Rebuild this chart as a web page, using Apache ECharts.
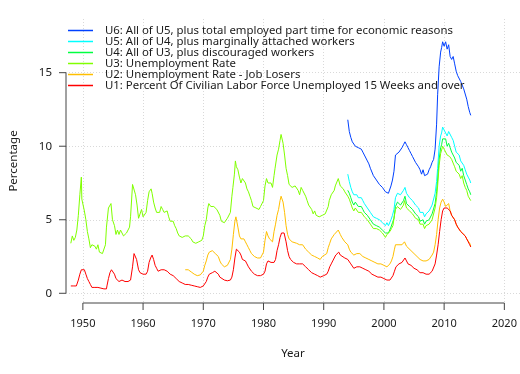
<!DOCTYPE html>
<html><head><meta charset="utf-8">
<script src="https://cdn.jsdelivr.net/npm/echarts@6/dist/echarts.min.js"></script>
<style>html,body{margin:0;padding:0;background:#fff}#c{width:520px;height:374px}</style>
</head><body><div id="c"></div>
<script>
// ---- data (decimal year, percent) ----
const seriesNames = [
  'U6: All of U5, plus total employed part time for economic reasons',
  'U5: All of U4, plus marginally attached workers',
  'U4: All of U3, plus discouraged workers',
  'U3: Unemployment Rate',
  'U2: Unemployment Rate - Job Losers',
  'U1: Percent Of Civilian Labor Force Unemployed 15 Weeks and over'
];
const seriesColors = ['#0040FF', '#00FFFF', '#00FF40', '#80FF00', '#FFBF00', '#FF0000'];
const xTicks = [1950, 1960, 1970, 1980, 1990, 2000, 2010, 2020];
const yTicks = [0, 5, 10, 15];

const u6 = [[1994.0,11.8],[1994.25,11.0],[1994.5,10.6],[1994.75,10.3],[1995.0,10.2],[1995.25,10.0],[1995.5,10.1],[1995.75,9.9],[1996.0,9.8],[1996.25,9.8],[1996.5,9.6],[1996.75,9.4],[1997.0,9.3],[1997.25,9.0],[1997.5,8.8],[1997.75,8.5],[1998.0,8.4],[1998.25,8.0],[1998.5,7.9],[1998.75,7.7],[1999.0,7.6],[1999.25,7.4],[1999.5,7.4],[1999.75,7.2],[2000.0,7.1],[2000.25,6.9],[2000.5,7.0],[2000.75,6.8],[2000.92,6.9],[2001.17,7.3],[2001.42,7.7],[2001.67,8.3],[2001.92,9.4],[2002.25,9.5],[2002.5,9.6],[2002.75,9.6],[2003.0,9.9],[2003.25,10.1],[2003.5,10.3],[2003.75,10.1],[2004.0,9.9],[2004.25,9.7],[2004.5,9.5],[2004.75,9.3],[2005.0,9.3],[2005.25,8.9],[2005.5,8.8],[2005.75,8.6],[2006.0,8.4],[2006.25,8.1],[2006.5,8.4],[2006.75,8.0],[2007.0,7.9],[2007.25,8.1],[2007.5,8.4],[2007.75,8.6],[2008.0,8.9],[2008.25,9.1],[2008.5,9.8],[2008.75,11.5],[2008.92,13.5],[2009.17,15.4],[2009.42,16.4],[2009.58,16.7],[2009.75,17.1],[2010.0,16.8],[2010.25,17.1],[2010.5,16.6],[2010.75,16.9],[2011.0,16.1],[2011.25,15.9],[2011.5,16.1],[2011.75,15.6],[2012.0,15.1],[2012.25,14.8],[2012.5,14.7],[2012.75,14.4],[2013.0,14.3],[2013.25,13.9],[2013.5,13.8],[2013.75,13.2],[2014.0,12.7],[2014.25,12.3],[2014.42,12.1]];

const u5 = [[1994.0,8.1],[1994.25,7.6],[1994.5,7.2],[1994.75,6.9],[1995.0,6.7],[1995.25,6.8],[1995.5,6.7],[1995.75,6.5],[1996.0,6.6],[1996.25,6.5],[1996.5,6.3],[1996.75,6.1],[1997.0,6.1],[1997.25,5.8],[1997.5,5.7],[1997.75,5.5],[1998.0,5.4],[1998.25,5.2],[1998.5,5.3],[1998.75,5.1],[1999.0,5.1],[1999.25,5.0],[1999.5,5.0],[1999.75,4.8],[2000.0,4.8],[2000.25,4.6],[2000.5,4.8],[2000.75,4.6],[2000.92,4.7],[2001.17,5.0],[2001.42,5.3],[2001.67,5.7],[2001.92,6.5],[2002.25,6.8],[2002.5,6.7],[2002.75,6.7],[2003.0,6.8],[2003.25,7.0],[2003.5,7.2],[2003.75,6.8],[2004.0,6.7],[2004.25,6.5],[2004.5,6.4],[2004.75,6.3],[2005.0,6.2],[2005.25,6.0],[2005.5,5.9],[2005.75,5.8],[2006.0,5.5],[2006.25,5.4],[2006.5,5.5],[2006.75,5.2],[2007.0,5.4],[2007.25,5.3],[2007.5,5.6],[2007.75,5.6],[2008.0,6.0],[2008.25,6.0],[2008.5,6.8],[2008.75,7.6],[2008.92,8.5],[2009.17,10.0],[2009.42,10.7],[2009.58,10.9],[2009.75,11.3],[2010.0,11.1],[2010.25,11.2],[2010.5,10.7],[2010.75,11.0],[2011.0,10.9],[2011.25,10.6],[2011.5,10.4],[2011.75,10.0],[2012.0,9.6],[2012.25,9.5],[2012.5,9.4],[2012.75,9.0],[2013.0,9.1],[2013.25,8.7],[2013.5,8.4],[2013.75,8.1],[2014.0,7.9],[2014.25,7.7],[2014.42,7.5]];

const u4 = [[1994.0,7.0],[1994.25,6.8],[1994.5,6.5],[1994.75,6.2],[1995.0,6.0],[1995.25,6.2],[1995.5,6.1],[1995.75,5.9],[1996.0,6.0],[1996.25,5.9],[1996.5,5.7],[1996.75,5.5],[1997.0,5.6],[1997.25,5.3],[1997.5,5.2],[1997.75,5.0],[1998.0,4.9],[1998.25,4.7],[1998.5,4.8],[1998.75,4.6],[1999.0,4.6],[1999.25,4.5],[1999.5,4.5],[1999.75,4.3],[2000.0,4.3],[2000.25,4.1],[2000.5,4.2],[2000.75,4.1],[2000.92,4.2],[2001.17,4.5],[2001.42,4.8],[2001.67,5.1],[2001.92,5.9],[2002.25,6.2],[2002.5,6.1],[2002.75,6.0],[2003.0,6.1],[2003.25,6.3],[2003.5,6.6],[2003.75,6.1],[2004.0,6.0],[2004.25,5.9],[2004.5,5.8],[2004.75,5.7],[2005.0,5.6],[2005.25,5.4],[2005.5,5.3],[2005.75,5.2],[2006.0,4.9],[2006.25,4.9],[2006.5,5.0],[2006.75,4.7],[2007.0,4.9],[2007.25,4.8],[2007.5,5.0],[2007.75,5.0],[2008.0,5.4],[2008.25,5.3],[2008.5,6.1],[2008.75,6.9],[2008.92,7.7],[2009.17,9.1],[2009.42,9.9],[2009.58,10.1],[2009.75,10.5],[2010.0,10.4],[2010.25,10.5],[2010.5,10.0],[2010.75,10.2],[2011.0,9.9],[2011.25,9.6],[2011.5,9.6],[2011.75,9.2],[2012.0,8.9],[2012.25,8.8],[2012.5,8.7],[2012.75,8.3],[2013.0,8.5],[2013.25,8.0],[2013.5,7.7],[2013.75,7.4],[2014.0,7.1],[2014.25,6.9],[2014.42,6.7]];

const u3 = [[1948.0,3.4],[1948.25,3.9],[1948.5,3.6],[1948.75,3.8],[1949.0,4.3],[1949.25,5.3],[1949.5,6.7],[1949.67,6.6],[1949.75,7.9],[1949.83,6.4],[1950.0,6.5],[1950.25,5.6],[1950.5,5.0],[1950.75,4.2],[1951.0,3.7],[1951.25,3.1],[1951.5,3.3],[1951.75,3.2],[1952.0,3.2],[1952.25,3.0],[1952.5,3.3],[1952.75,2.8],[1953.0,2.9],[1953.25,2.7],[1953.5,2.6],[1953.75,3.3],[1953.92,4.5],[1954.25,5.8],[1954.67,6.1],[1954.92,5.0],[1955.25,4.6],[1955.5,4.0],[1955.75,4.3],[1956.0,4.0],[1956.25,4.3],[1956.5,4.4],[1956.75,3.9],[1957.0,3.9],[1957.25,4.1],[1957.5,4.2],[1957.75,4.5],[1957.92,5.2],[1958.25,7.4],[1958.5,7.5],[1958.75,6.7],[1959.0,6.0],[1959.25,5.1],[1959.5,5.2],[1959.75,5.7],[1960.0,5.2],[1960.25,5.1],[1960.5,5.5],[1960.75,6.3],[1961.0,6.9],[1961.33,7.1],[1961.5,6.8],[1961.75,6.2],[1962.0,5.8],[1962.25,5.5],[1962.5,5.6],[1962.75,5.5],[1963.0,5.9],[1963.25,5.7],[1963.5,5.5],[1963.75,5.5],[1964.0,5.6],[1964.25,5.2],[1964.5,4.9],[1964.75,5.0],[1965.0,4.9],[1965.25,4.6],[1965.5,4.4],[1965.75,4.1],[1966.0,3.9],[1966.25,3.8],[1966.5,3.8],[1966.75,3.7],[1967.0,3.9],[1967.25,3.8],[1967.5,3.9],[1967.75,3.9],[1968.0,3.7],[1968.25,3.5],[1968.5,3.5],[1968.75,3.4],[1969.0,3.4],[1969.25,3.5],[1969.5,3.5],[1969.75,3.6],[1970.0,3.9],[1970.25,4.6],[1970.5,5.0],[1970.75,5.8],[1970.92,6.1],[1971.25,5.9],[1971.5,6.0],[1971.75,5.9],[1972.0,5.8],[1972.25,5.7],[1972.5,5.6],[1972.75,5.3],[1973.0,4.9],[1973.25,5.0],[1973.5,4.8],[1973.75,4.8],[1974.0,5.1],[1974.25,5.1],[1974.5,5.5],[1974.75,6.6],[1974.92,7.2],[1975.17,8.1],[1975.33,9.0],[1975.5,8.6],[1975.75,8.4],[1976.0,7.9],[1976.25,7.5],[1976.5,7.8],[1976.75,7.7],[1977.0,7.5],[1977.25,7.1],[1977.5,6.9],[1977.75,6.6],[1978.0,6.3],[1978.25,5.9],[1978.5,6.0],[1978.75,5.8],[1979.0,5.9],[1979.25,5.7],[1979.5,5.9],[1979.75,6.0],[1980.0,6.3],[1980.25,7.3],[1980.5,7.8],[1980.75,7.5],[1981.0,7.5],[1981.25,7.5],[1981.5,7.2],[1981.75,8.0],[1981.92,8.5],[1982.25,9.4],[1982.5,9.8],[1982.75,10.4],[1982.92,10.8],[1983.25,10.2],[1983.5,9.4],[1983.75,8.5],[1984.0,8.0],[1984.25,7.4],[1984.5,7.5],[1984.75,7.2],[1985.0,7.3],[1985.25,7.3],[1985.5,7.2],[1985.75,7.0],[1986.0,6.7],[1986.25,7.2],[1986.5,7.0],[1986.75,6.9],[1987.0,6.6],[1987.25,6.3],[1987.5,6.0],[1987.75,5.9],[1988.0,5.7],[1988.25,5.4],[1988.5,5.6],[1988.75,5.3],[1989.0,5.4],[1989.25,5.2],[1989.5,5.2],[1989.75,5.3],[1990.0,5.4],[1990.25,5.4],[1990.5,5.5],[1990.75,5.9],[1990.92,6.3],[1991.25,6.7],[1991.5,6.8],[1991.75,7.0],[1991.92,7.3],[1992.25,7.4],[1992.42,7.8],[1992.75,7.3],[1993.0,7.3],[1993.25,7.1],[1993.5,6.9],[1993.75,6.8],[1994.0,6.6],[1994.25,6.4],[1994.5,6.1],[1994.75,5.8],[1995.0,5.6],[1995.25,5.8],[1995.5,5.7],[1995.75,5.5],[1996.0,5.6],[1996.25,5.5],[1996.5,5.4],[1996.75,5.2],[1997.0,5.3],[1997.25,5.0],[1997.5,4.9],[1997.75,4.7],[1998.0,4.6],[1998.25,4.4],[1998.5,4.5],[1998.75,4.4],[1999.0,4.3],[1999.25,4.3],[1999.5,4.3],[1999.75,4.1],[2000.0,4.0],[2000.25,3.8],[2000.5,4.0],[2000.75,3.9],[2001.0,4.2],[2001.25,4.4],[2001.5,4.6],[2001.75,5.3],[2001.92,5.7],[2002.25,5.9],[2002.5,5.8],[2002.75,5.7],[2003.0,5.8],[2003.25,6.0],[2003.42,6.3],[2003.75,5.8],[2004.0,5.7],[2004.25,5.6],[2004.5,5.5],[2004.75,5.4],[2005.0,5.3],[2005.25,5.1],[2005.5,5.0],[2005.75,5.0],[2006.0,4.7],[2006.25,4.6],[2006.5,4.7],[2006.75,4.4],[2007.0,4.6],[2007.25,4.5],[2007.5,4.7],[2007.75,4.7],[2008.0,5.0],[2008.25,5.0],[2008.5,5.8],[2008.75,6.5],[2008.92,7.3],[2009.17,8.7],[2009.42,9.5],[2009.58,9.6],[2009.75,10.0],[2010.0,9.8],[2010.25,9.9],[2010.5,9.4],[2010.75,9.5],[2010.92,9.3],[2011.25,9.1],[2011.5,9.0],[2011.75,8.6],[2012.0,8.3],[2012.25,8.2],[2012.5,8.1],[2012.75,7.8],[2013.0,8.0],[2013.25,7.5],[2013.5,7.2],[2013.75,7.0],[2014.0,6.6],[2014.25,6.5],[2014.42,6.3]];

const u2 = [[1967.0,1.6],[1967.25,1.65],[1967.5,1.6],[1967.75,1.55],[1968.0,1.45],[1968.25,1.35],[1968.5,1.3],[1968.75,1.25],[1969.0,1.2],[1969.5,1.25],[1969.75,1.3],[1970.0,1.5],[1970.25,1.9],[1970.5,2.2],[1970.75,2.6],[1971.0,2.8],[1971.25,2.8],[1971.5,2.9],[1971.75,2.8],[1972.0,2.7],[1972.25,2.6],[1972.5,2.5],[1972.75,2.2],[1973.0,2.0],[1973.25,1.9],[1973.5,1.8],[1973.75,1.8],[1974.0,1.9],[1974.25,2.0],[1974.5,2.3],[1974.75,3.0],[1975.0,4.0],[1975.25,4.9],[1975.42,5.2],[1975.75,4.5],[1976.0,3.9],[1976.25,3.7],[1976.5,3.8],[1976.75,3.7],[1977.0,3.5],[1977.25,3.3],[1977.5,3.1],[1977.75,2.9],[1978.0,2.7],[1978.5,2.5],[1979.0,2.4],[1979.5,2.4],[1979.75,2.6],[1980.0,2.8],[1980.25,3.6],[1980.5,4.2],[1980.75,3.9],[1981.0,3.7],[1981.25,3.6],[1981.5,3.5],[1981.75,4.2],[1982.0,4.7],[1982.25,5.3],[1982.5,5.7],[1982.75,6.3],[1982.92,6.6],[1983.25,6.2],[1983.5,5.5],[1983.75,4.6],[1984.0,4.0],[1984.25,3.7],[1984.5,3.6],[1984.75,3.5],[1985.0,3.5],[1985.5,3.4],[1986.0,3.3],[1986.25,3.4],[1986.5,3.3],[1986.75,3.2],[1987.0,3.0],[1987.5,2.8],[1988.0,2.6],[1988.5,2.5],[1989.0,2.4],[1989.42,2.3],[1989.75,2.5],[1990.0,2.5],[1990.5,2.7],[1990.75,3.1],[1991.0,3.4],[1991.25,3.7],[1991.5,3.8],[1991.75,4.0],[1992.0,4.1],[1992.42,4.3],[1992.75,4.0],[1993.0,3.8],[1993.5,3.5],[1994.0,3.3],[1994.25,3.0],[1994.5,2.8],[1994.75,2.7],[1995.0,2.6],[1995.5,2.7],[1996.0,2.7],[1996.5,2.5],[1997.0,2.4],[1997.5,2.3],[1998.0,2.2],[1998.5,2.1],[1999.0,2.0],[1999.5,2.0],[2000.0,1.9],[2000.5,1.8],[2000.75,1.8],[2001.0,2.0],[2001.25,2.2],[2001.5,2.5],[2001.75,3.0],[2001.92,3.3],[2002.25,3.4],[2002.5,3.3],[2002.75,3.3],[2003.0,3.3],[2003.42,3.5],[2003.75,3.2],[2004.0,3.1],[2004.5,2.9],[2005.0,2.7],[2005.5,2.5],[2006.0,2.3],[2006.5,2.2],[2006.75,2.1],[2007.0,2.2],[2007.5,2.3],[2007.75,2.4],[2008.0,2.6],[2008.25,2.8],[2008.5,3.3],[2008.75,4.0],[2009.0,5.0],[2009.25,5.8],[2009.5,6.2],[2009.75,6.4],[2010.0,6.2],[2010.25,5.9],[2010.5,5.8],[2010.75,6.1],[2011.0,5.6],[2011.25,5.3],[2011.5,5.4],[2011.75,5.0],[2012.0,4.7],[2012.25,4.5],[2012.5,4.4],[2012.75,4.2],[2013.0,4.1],[2013.5,3.9],[2013.75,3.7],[2014.0,3.6],[2014.25,3.4],[2014.42,3.2]];

const u1 = [[1948.0,0.5],[1948.5,0.5],[1948.92,0.5],[1949.25,0.9],[1949.5,1.3],[1949.75,1.6],[1950.0,1.7],[1950.25,1.6],[1950.5,1.3],[1950.75,1.0],[1951.0,0.8],[1951.25,0.6],[1951.5,0.4],[1951.75,0.5],[1952.0,0.4],[1952.5,0.4],[1952.75,0.35],[1953.0,0.35],[1953.5,0.3],[1953.92,0.3],[1954.0,0.5],[1954.25,1.0],[1954.5,1.4],[1954.75,1.6],[1955.0,1.5],[1955.25,1.3],[1955.5,1.0],[1955.75,0.9],[1956.0,0.8],[1956.5,0.9],[1957.0,0.8],[1957.5,0.8],[1957.92,0.9],[1958.25,1.8],[1958.5,2.7],[1958.67,2.8],[1958.92,2.3],[1959.25,1.6],[1959.5,1.4],[1959.75,1.3],[1960.0,1.3],[1960.25,1.2],[1960.5,1.3],[1960.75,1.5],[1961.0,2.1],[1961.25,2.4],[1961.5,2.6],[1961.75,2.3],[1962.0,1.9],[1962.25,1.7],[1962.5,1.5],[1962.75,1.5],[1963.0,1.6],[1963.5,1.6],[1964.0,1.5],[1964.5,1.3],[1965.0,1.2],[1965.5,1.0],[1966.0,0.8],[1966.5,0.7],[1967.0,0.6],[1967.5,0.6],[1968.0,0.55],[1968.5,0.5],[1969.0,0.45],[1969.5,0.4],[1970.0,0.5],[1970.25,0.6],[1970.5,0.8],[1970.75,1.1],[1971.0,1.3],[1971.5,1.4],[1971.92,1.5],[1972.25,1.4],[1972.5,1.3],[1972.75,1.1],[1973.0,1.0],[1973.5,0.9],[1974.0,0.85],[1974.5,0.9],[1974.75,1.1],[1975.0,1.6],[1975.25,2.4],[1975.5,3.0],[1975.75,3.1],[1976.0,2.8],[1976.25,2.6],[1976.5,2.3],[1976.75,2.4],[1977.0,2.2],[1977.25,2.0],[1977.5,1.8],[1977.75,1.7],[1978.0,1.5],[1978.5,1.3],[1979.0,1.2],[1979.5,1.2],[1980.0,1.3],[1980.25,1.5],[1980.5,2.0],[1980.75,2.2],[1981.0,2.1],[1981.25,2.1],[1981.5,2.0],[1981.75,2.1],[1982.0,2.3],[1982.25,2.9],[1982.5,3.3],[1982.75,3.8],[1983.0,4.1],[1983.25,4.2],[1983.42,4.1],[1983.75,3.5],[1984.0,2.9],[1984.25,2.5],[1984.5,2.3],[1984.75,2.2],[1985.0,2.1],[1985.5,2.0],[1986.0,2.0],[1986.5,2.0],[1987.0,1.8],[1987.5,1.6],[1988.0,1.4],[1988.5,1.3],[1989.0,1.2],[1989.42,1.1],[1989.75,1.2],[1990.0,1.2],[1990.5,1.3],[1990.75,1.5],[1991.0,1.8],[1991.25,2.0],[1991.5,2.2],[1991.75,2.4],[1992.0,2.6],[1992.5,2.8],[1992.75,2.6],[1993.0,2.5],[1993.5,2.4],[1994.0,2.3],[1994.5,2.0],[1995.0,1.7],[1995.5,1.8],[1996.0,1.8],[1996.5,1.7],[1997.0,1.6],[1997.5,1.5],[1998.0,1.3],[1998.5,1.2],[1999.0,1.1],[1999.5,1.1],[2000.0,1.0],[2000.5,0.9],[2000.75,0.9],[2001.0,0.9],[2001.25,1.0],[2001.5,1.2],[2001.75,1.5],[2002.0,1.8],[2002.5,2.0],[2003.0,2.1],[2003.5,2.4],[2003.75,2.2],[2004.0,2.0],[2004.5,1.9],[2005.0,1.7],[2005.5,1.6],[2006.0,1.4],[2006.5,1.4],[2007.0,1.3],[2007.5,1.3],[2008.0,1.5],[2008.25,1.6],[2008.5,2.0],[2008.75,2.6],[2009.0,3.3],[2009.25,4.2],[2009.5,5.0],[2009.75,5.6],[2010.0,5.8],[2010.25,5.9],[2010.5,5.8],[2010.75,5.7],[2011.0,5.6],[2011.25,5.3],[2011.5,5.3],[2011.75,5.0],[2012.0,4.7],[2012.25,4.5],[2012.5,4.4],[2012.75,4.2],[2013.0,4.1],[2013.5,3.9],[2013.75,3.7],[2014.0,3.5],[2014.25,3.3],[2014.42,3.15]];

const seriesData = [u6, u5, u4, u3, u2, u1];

// ---- chart ----
const xMin = 1947.2, xMax = 2022.6, yMin = -0.66, yMax = 18.65;
const FONT = 'Noto Sans';
const TXT = '#1a1a1a';
const AX = '#444';

const chart = echarts.init(document.getElementById('c'), null, {renderer: 'canvas'});

const lineSeries = seriesNames.map((n, i) => ({
  name: n, type: 'line', data: seriesData[i], symbol: 'none', showSymbol: false,
  lineStyle: {width: 1, color: seriesColors[i]}, itemStyle: {color: seriesColors[i]},
  animation: false, z: 3, emphasis: {disabled: true}
}));

const axisSeries = {
  type: 'custom', silent: true, clip: false, z: 6, animation: false,
  data: [[1980, 5]],
  renderItem: function (params, api) {
    const st = {stroke: AX, lineWidth: 1};
    const ch = [];
    const a = api.coord([xTicks[0], yMin]), b = api.coord([xTicks[xTicks.length - 1], yMin]);
    ch.push({type: 'line', shape: {x1: a[0], y1: a[1], x2: b[0], y2: b[1]}, style: st});
    xTicks.forEach(t => { const p = api.coord([t, yMin]); ch.push({type: 'line', shape: {x1: p[0], y1: p[1], x2: p[0], y2: p[1] + 7}, style: st}); });
    const c = api.coord([xMin, yTicks[0]]), d = api.coord([xMin, yTicks[yTicks.length - 1]]);
    ch.push({type: 'line', shape: {x1: c[0], y1: c[1], x2: d[0], y2: d[1]}, style: st});
    yTicks.forEach(t => { const p = api.coord([xMin, t]); ch.push({type: 'line', shape: {x1: p[0], y1: p[1], x2: p[0] - 7, y2: p[1]}, style: st}); });
    return {type: 'group', children: ch};
  }
};

chart.setOption({
  animation: false,
  backgroundColor: '#fff',
  textStyle: {fontFamily: FONT},
  grid: {left: 56, right: 0, top: 19, bottom: 71, containLabel: false},
  legend: {
    orient: 'vertical', left: 68, top: 25, padding: 0, itemWidth: 25, itemHeight: 1.5, itemGap: 0,
    icon: 'rect',
    data: seriesNames, selectedMode: false,
    textStyle: {fontFamily: FONT, fontSize: 11.4, color: TXT, lineHeight: 10.6, height: 10.6, padding: [0, 0, 0, 7]}
  },
  xAxis: {
    type: 'value', min: xMin, max: xMax, splitNumber: 8,
    name: 'Year', nameLocation: 'middle', nameGap: 45,
    nameTextStyle: {fontFamily: FONT, fontSize: 11.5, color: TXT},
    axisLine: {show: false}, axisTick: {show: false},
    axisLabel: {show: true, showMinLabel: false, showMaxLabel: false, margin: 15, fontFamily: FONT, fontSize: 11, color: TXT,
      formatter: v => (xTicks.indexOf(Math.round(v)) >= 0 && Math.abs(v - Math.round(v)) < 1e-6) ? String(Math.round(v)) : ''},
    splitLine: {show: true, showMinLine: false, showMaxLine: false, lineStyle: {color: '#d9d9d9', type: [1, 2], width: 1}}
  },
  yAxis: {
    type: 'value', min: yMin, max: yMax, splitNumber: 4,
    name: 'Percentage', nameLocation: 'middle', nameGap: 46,
    nameTextStyle: {fontFamily: FONT, fontSize: 11.5, color: TXT},
    axisLine: {show: false}, axisTick: {show: false},
    axisLabel: {show: true, showMinLabel: false, showMaxLabel: false, margin: 14, fontFamily: FONT, fontSize: 11.5, color: TXT,
      formatter: v => (yTicks.indexOf(Math.round(v)) >= 0 && Math.abs(v - Math.round(v)) < 1e-6) ? String(Math.round(v)) : ''},
    splitLine: {show: true, showMinLine: false, showMaxLine: false, lineStyle: {color: '#d9d9d9', type: [1, 2], width: 1}}
  },
  series: lineSeries.concat([axisSeries])
});
</script>
</body></html>
